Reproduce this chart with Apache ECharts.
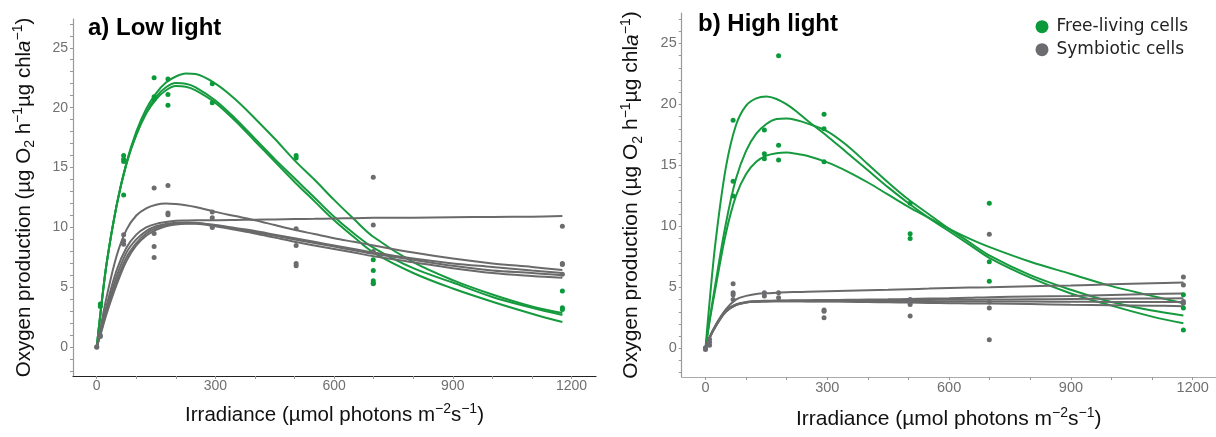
<!DOCTYPE html>
<html>
<head>
<meta charset="utf-8">
<script src="https://cdn.jsdelivr.net/npm/echarts@6/dist/echarts.min.js"></script>
<style>
html,body{margin:0;padding:0;background:#fff;}
#chart{width:1216px;height:437px;}
</style>
</head>
<body>
<div id="chart"></div>
<script>
// ---------- data ----------
const xTickLabels = [0, 300, 600, 900, 1200];
const xMinorTicks = [0,100,200,300,400,500,600,700,800,900,1000,1100,1200];
const yTickLabels = [0, 5, 10, 15, 20, 25];
const yMinorTicks = [-2,-1,0,1,2,3,4,5,6,7,8,9,10,11,12,13,14,15,16,17,18,19,20,21,22,23,24,25,26,27];

// irradiance values at which the fitted curves are read
const curveIrr = [0,10,25,50,75,100,125,150,175,200,225,250,300,350,400,450,500,550,600,650,700,800,900,1000,1100,1177];

// a) Low light - fitted curves
const lowFreeFit1 = [0,3.0,7.0,11.8,15.4,18.0,19.9,21.2,22.1,22.6,22.85,22.8,22.0,20.7,19.1,17.4,15.6,14.0,12.3,10.7,9.2,7.1,5.6,4.4,3.4,2.85];
const lowFreeFit2 = [0,3.0,7.0,11.8,15.3,17.8,19.6,20.9,21.7,22.05,22.0,21.7,20.6,19.1,17.4,15.7,14.1,12.5,10.9,9.5,8.3,6.6,5.4,4.2,3.3,2.7];
const lowFreeFit3 = [0,3.0,7.0,11.8,15.3,17.7,19.5,20.7,21.45,21.8,21.75,21.45,20.4,18.9,17.2,15.5,13.8,12.2,10.6,9.2,7.9,6.2,4.9,3.8,2.8,2.1];
const lowSymFit1 = [0,1.7,4.2,7.6,9.8,11.0,11.6,11.9,12.0,11.95,11.85,11.7,11.3,10.95,10.6,10.2,9.8,9.45,9.1,8.8,8.5,7.9,7.4,7.0,6.7,6.45];
const lowSymFit2 = [0,1.4,3.5,6.4,8.3,9.4,10.0,10.3,10.45,10.55,10.58,10.6,10.6,10.62,10.65,10.67,10.7,10.72,10.75,10.77,10.8,10.82,10.85,10.88,10.9,10.95];
const lowSymFit3 = [0,1.3,3.2,5.9,7.9,9.0,9.7,10.1,10.3,10.4,10.42,10.4,10.2,9.95,9.7,9.4,9.1,8.8,8.5,8.2,7.9,7.4,7.0,6.7,6.4,6.2];
const lowSymFit4 = [0,1.2,3.0,5.5,7.5,8.7,9.5,9.95,10.2,10.3,10.35,10.35,10.15,9.9,9.6,9.3,9.0,8.7,8.4,8.1,7.8,7.3,6.8,6.4,6.2,6.0];
const lowSymFit5 = [0,1.1,2.8,5.2,7.2,8.5,9.3,9.8,10.1,10.25,10.3,10.3,10.1,9.8,9.5,9.15,8.8,8.5,8.2,7.9,7.6,7.1,6.6,6.2,5.95,5.8];

// a) Low light - measurements
const lowFreeX = [9,9,68,68,68,68,145,145,145,180,180,180,292,292,504,504,699,699,699,699,1177,1177,1177];
const lowFreeY = [3.6,3.4,16.0,15.7,15.5,12.7,22.5,20.9,20.7,22.4,21.1,20.2,22.0,20.4,16.0,15.8,7.3,6.4,5.55,5.35,4.7,3.3,3.15];
const lowSymX = [0,0,9,9,68,68,68,145,145,145,145,180,180,180,292,292,292,292,504,504,504,504,699,699,699,699,1177,1177,1177,1177];
const lowSymY = [0,0.05,0.9,1.0,9.4,8.9,8.6,13.3,9.5,8.4,7.5,13.5,11.2,11.05,11.3,10.8,10.1,10.0,9.9,8.5,7.0,6.8,14.2,10.2,8.0,5.3,10.1,7.0,6.9,6.1];

// b) High light - fitted curves
const highFreeFit1 = [0,3.8,8.8,14.8,18.3,19.9,20.5,20.65,20.45,20.0,19.4,18.7,17.4,16.0,14.6,13.2,11.9,10.7,9.6,8.5,7.4,5.8,4.5,3.5,2.6,2.05];
const highFreeFit2 = [0,2.3,5.4,10.2,13.9,16.2,17.6,18.4,18.8,18.85,18.7,18.45,17.8,16.6,15.1,13.6,12.2,11.0,9.8,8.7,7.6,6.0,4.8,3.8,3.1,2.7];
const highFreeFit3 = [0,2.2,5.0,9.4,12.5,14.3,15.3,15.8,16.0,16.05,15.95,15.8,15.25,14.5,13.6,12.6,11.6,10.7,9.8,9.0,8.3,7.1,6.1,5.1,4.3,3.7];
const highSymFit1 = [0,0.9,1.9,3.2,4.0,4.3,4.45,4.52,4.56,4.6,4.62,4.64,4.68,4.72,4.76,4.8,4.85,4.9,4.95,4.98,5.0,5.1,5.15,5.25,5.33,5.4];
const highSymFit2 = [0,0.9,1.9,3.1,3.6,3.8,3.87,3.9,3.92,3.93,3.94,3.95,3.96,3.98,4.0,4.02,4.05,4.08,4.1,4.15,4.2,4.25,4.3,4.38,4.45,4.5];
const highSymFit3 = [0,0.9,1.85,3.05,3.58,3.78,3.85,3.88,3.89,3.9,3.9,3.9,3.9,3.92,3.93,3.94,3.95,3.97,3.98,3.99,4.0,4.02,4.05,4.07,4.09,4.1];
const highSymFit4 = [0,0.85,1.8,3.0,3.55,3.76,3.83,3.85,3.86,3.87,3.87,3.87,3.87,3.86,3.86,3.86,3.85,3.85,3.85,3.85,3.85,3.84,3.82,3.81,3.8,3.8];
const highSymFit5 = [0,0.85,1.8,3.0,3.55,3.76,3.83,3.85,3.86,3.86,3.86,3.85,3.85,3.82,3.8,3.77,3.75,3.72,3.7,3.68,3.67,3.63,3.58,3.54,3.5,3.46];

// b) High light - measurements
const highFreeX = [68,68,68,145,145,145,180,180,180,292,292,292,504,504,504,699,699,699,1177,1177,1177];
const highFreeY = [18.7,13.7,12.5,17.9,15.95,15.55,24.0,16.65,15.45,19.2,18.0,15.3,11.9,9.4,9.0,11.9,7.1,5.5,4.4,3.3,1.5];
const highSymX = [0,0,0,10,10,10,68,68,68,68,145,145,180,180,292,292,292,504,504,504,504,699,699,699,699,1177,1177,1177,1177];
const highSymY = [-0.1,0,0.05,0.25,0.5,0.75,5.3,4.55,4.4,4.0,4.55,4.3,4.55,4.15,3.15,3.05,2.5,4.0,3.75,3.6,2.65,9.35,3.8,3.3,0.7,5.85,5.2,3.85,3.7];

const panelTitles = ['a) Low light', 'b) High light'];
const legendNames = ['Free-living cells', 'Symbiotic cells'];

// ---------- styling ----------
const FONT = "'Liberation Sans', Arial, sans-serif";
const GREEN = '#0a9a3a';
const GREEN_LINE = '#169a3e';
const GRAY = '#6c6c70';
const GRAY_LINE = '#6a6a6a';

function richSet(fs) {
  return {
    sup: {fontSize: Math.round(fs * 0.68), fontFamily: FONT, color: '#111', lineHeight: 16, verticalAlign: 'top'},
    sub: {fontSize: Math.round(fs * 0.68), fontFamily: FONT, color: '#111', lineHeight: 16, verticalAlign: 'bottom'},
    it: {fontSize: fs, fontFamily: FONT, color: '#111', fontStyle: 'italic', lineHeight: 26}
  };
}
const xName = 'Irradiance (µmol photons m{sup|−2}s{sup|−1})';
const yName = 'Oxygen production (µg O{sub|2} h{sup|−1}µg chl{it|a}{sup|−1})';

function plainNumber(v) { return String(v); }

function xAxisCfg(idx, min, max, lineColor, fs, gap, labelFs) {
  return {
    gridIndex: idx, type: 'value', min: min, max: max,
    name: xName, nameLocation: 'middle', nameGap: gap,
    nameTextStyle: {fontSize: fs, fontFamily: FONT, color: '#111', lineHeight: 26, rich: richSet(fs)},
    axisLine: {show: true, onZero: false, lineStyle: {color: lineColor, width: 1.2}},
    axisTick: {show: true, customValues: xMinorTicks, length: 3, lineStyle: {color: '#999'}},
    axisLabel: {customValues: xTickLabels, formatter: plainNumber, color: '#707070', fontSize: labelFs, fontFamily: FONT, margin: 3},
    splitLine: {show: false}
  };
}
function yAxisCfg(idx, min, max, lineColor, fs, gap, labelFs) {
  return {
    gridIndex: idx, type: 'value', min: min, max: max,
    name: yName, nameLocation: 'middle', nameGap: gap,
    nameTextStyle: {fontSize: fs, fontFamily: FONT, color: '#111', lineHeight: 26, rich: richSet(fs)},
    axisLine: {show: true, onZero: false, lineStyle: {color: lineColor, width: 1.2}},
    axisTick: {show: true, customValues: yMinorTicks, length: 3, lineStyle: {color: '#999'}},
    axisLabel: {customValues: yTickLabels, formatter: plainNumber, color: '#707070', fontSize: labelFs, fontFamily: FONT, margin: 5},
    splitLine: {show: false}
  };
}

function fitSeries(name, vals, axis, color) {
  return {
    name: name, type: 'line', xAxisIndex: axis, yAxisIndex: axis,
    data: curveIrr.map((x, i) => [x, vals[i]]),
    showSymbol: false, smooth: 0.35, silent: true,
    lineStyle: {color: color, width: 2}, z: 2
  };
}
function pointSeries(name, xs, ys, axis, color) {
  return {
    name: name, type: 'scatter', xAxisIndex: axis, yAxisIndex: axis,
    data: xs.map((x, i) => [x, ys[i]]),
    symbolSize: 5, itemStyle: {color: color, opacity: 1}, z: 3
  };
}

const series = [
  fitSeries('fit-a-free-1', lowFreeFit1, 0, GREEN_LINE),
  fitSeries('fit-a-free-2', lowFreeFit2, 0, GREEN_LINE),
  fitSeries('fit-a-free-3', lowFreeFit3, 0, GREEN_LINE),
  fitSeries('fit-a-sym-1', lowSymFit1, 0, GRAY_LINE),
  fitSeries('fit-a-sym-2', lowSymFit2, 0, GRAY_LINE),
  fitSeries('fit-a-sym-3', lowSymFit3, 0, GRAY_LINE),
  fitSeries('fit-a-sym-4', lowSymFit4, 0, GRAY_LINE),
  fitSeries('fit-a-sym-5', lowSymFit5, 0, GRAY_LINE),
  fitSeries('fit-b-free-1', highFreeFit1, 1, GREEN_LINE),
  fitSeries('fit-b-free-2', highFreeFit2, 1, GREEN_LINE),
  fitSeries('fit-b-free-3', highFreeFit3, 1, GREEN_LINE),
  fitSeries('fit-b-sym-1', highSymFit1, 1, GRAY_LINE),
  fitSeries('fit-b-sym-2', highSymFit2, 1, GRAY_LINE),
  fitSeries('fit-b-sym-3', highSymFit3, 1, GRAY_LINE),
  fitSeries('fit-b-sym-4', highSymFit4, 1, GRAY_LINE),
  fitSeries('fit-b-sym-5', highSymFit5, 1, GRAY_LINE),
  pointSeries(legendNames[1], lowSymX, lowSymY, 0, GRAY),
  pointSeries(legendNames[0], lowFreeX, lowFreeY, 0, GREEN),
  pointSeries(legendNames[1], highSymX, highSymY, 1, GRAY),
  pointSeries(legendNames[0], highFreeX, highFreeY, 1, GREEN)
];

const option = {
  backgroundColor: '#fff',
  animation: false,
  title: [
    {text: panelTitles[0], left: 88, top: 16, padding: 0,
     textStyle: {fontSize: 24, fontWeight: 'bold', color: '#000', fontFamily: FONT}},
    {text: panelTitles[1], left: 698, top: 12, padding: 0,
     textStyle: {fontSize: 24, fontWeight: 'bold', color: '#000', fontFamily: FONT}}
  ],
  legend: {
    orient: 'vertical', left: 1035.5, top: 16.7, padding: 0,
    itemWidth: 13, itemHeight: 13, itemGap: 3,
    textStyle: {fontFamily: "'DejaVu Sans', Verdana, sans-serif", fontSize: 17, color: '#222', lineHeight: 20, padding: [0, 0, 0, 3]},
    data: [
      {name: legendNames[0], icon: 'circle', itemStyle: {color: GREEN}},
      {name: legendNames[1], icon: 'circle', itemStyle: {color: GRAY}}
    ],
    selectedMode: false
  },
  grid: [
    {left: 73, top: 19, width: 523, height: 357},
    {left: 681.7, top: 13, width: 534, height: 368.7}
  ],
  xAxis: [
    xAxisCfg(0, -60, 1262, '#222', 20.5, 26, 14),
    xAxisCfg(1, -58.6, 1256.6, '#aaa', 21, 29, 14.5)
  ],
  yAxis: [
    yAxisCfg(0, -2.4, 27.4, '#999', 20.5, 36, 14),
    yAxisCfg(1, -2.35, 27.5, '#999', 21, 37, 14.5)
  ],
  series: series
};

const chart = echarts.init(document.getElementById('chart'), null, {renderer: 'canvas'});
chart.setOption(option);
</script>
</body>
</html>
